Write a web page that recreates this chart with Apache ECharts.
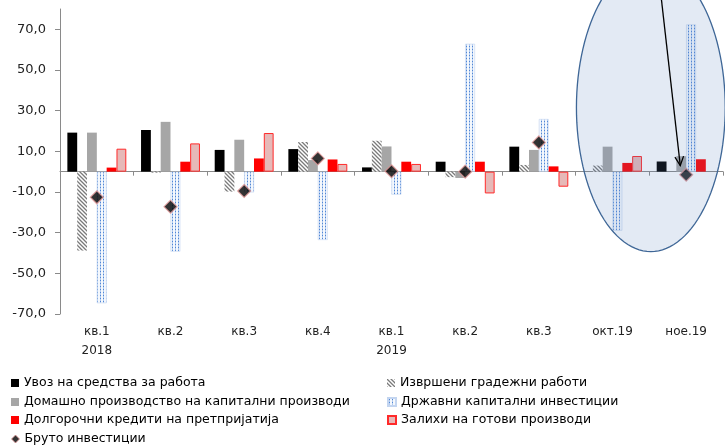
<!DOCTYPE html>
<html>
<head>
<meta charset="utf-8">
<script src="https://cdn.jsdelivr.net/npm/echarts@6/dist/echarts.min.js"></script>
<style>
  html, body { margin: 0; padding: 0; background: #fff; }
  #main { width: 725px; height: 445px; }
</style>
</head>
<body>
<div id="main"></div>
<script>
// Categories (quarters of 2018-2019, then months)
const categories = ['кв.1\n2018', 'кв.2', 'кв.3', 'кв.4', 'кв.1\n2019', 'кв.2', 'кв.3', 'окт.19', 'ное.19'];

// Series values, annual % change
const importsEquipment = [19.2, 20.5, 10.7, 11.1, 2.1, 4.9, 12.3, null, 5.0];
const constructionWorks = [-38.8, -0.5, -9.8, 14.6, 15.2, -2.7, 3.3, 3.0, null];
const domesticCapital = [19.2, 24.5, 15.7, 5.7, 12.4, -3.1, 10.7, 12.3, 7.6];
const govInvestment = [-64.7, -39.3, -10.2, -33.6, -11.3, 62.9, 25.9, -29.0, 72.4];
const longTermCredit = [2.0, 4.9, 6.5, 6.0, 4.9, 4.9, 2.6, 4.3, 6.1];
const finishedStocks = [11.3, 13.9, 19.0, 3.8, 3.8, -10.7, -7.4, 7.7, null];
const grossInvestment = [-12.6, -17.2, -9.5, 6.5, 0.2, 0.0, 14.4, null, -1.5];

// Value-axis tick labels
const yTicks = [-70, -50, -30, -10, 10, 30, 50, 70];

const FONT = 'DejaVu Sans';

// Fill patterns
function hatchPattern() {
  const c = document.createElement('canvas');
  c.width = 4; c.height = 4;
  const g = c.getContext('2d');
  g.fillStyle = '#ffffff';
  g.fillRect(0, 0, 4, 4);
  g.strokeStyle = '#7a7a7a';
  g.lineWidth = 1.3;
  g.beginPath();
  g.moveTo(-1, -1); g.lineTo(5, 5);
  g.moveTo(-1, 3); g.lineTo(1, 5);
  g.moveTo(3, -1); g.lineTo(5, 1);
  g.stroke();
  return { image: c, repeat: 'repeat' };
}
function dotPattern() {
  const c = document.createElement('canvas');
  c.width = 3; c.height = 3;
  const g = c.getContext('2d');
  g.fillStyle = '#f4f8fd';
  g.fillRect(0, 0, 3, 3);
  g.fillStyle = '#b3cbee';
  g.fillRect(1, 0, 1, 3);
  g.fillStyle = '#4f86d6';
  g.fillRect(1, 1, 1, 1);
  return { image: c, repeat: 'repeat' };
}

const chart = echarts.init(document.getElementById('main'), null, { renderer: 'canvas' });

function bar(name, data, itemStyle) {
  return {
    name, type: 'bar', data,
    xAxisIndex: 0, yAxisIndex: 0,
    barGap: '0%', barCategoryGap: '20%',
    itemStyle
  };
}

// One legend row per entry, laid out in two columns
const legendText = { fontFamily: FONT, fontSize: 12.5, color: '#000', lineHeight: 14 };
function legendRow(item, left, centerY) {
  return {
    left, top: centerY - 7, orient: 'horizontal', padding: 0,
    itemWidth: 8, itemHeight: 8, textStyle: legendText,
    data: [item]
  };
}

const option = {
  animation: false,
  backgroundColor: '#ffffff',
  grid: { left: 60, right: 2, top: 9, bottom: 131, containLabel: false },
  xAxis: [
    {
      type: 'category', data: categories, position: 'bottom',
      axisLine: { onZero: true, lineStyle: { color: '#8a8a8a', width: 1 } },
      axisTick: { show: true, length: 4, lineStyle: { color: '#8a8a8a' } },
      axisLabel: { show: false },
      splitLine: { show: false }
    },
    {
      type: 'category', data: categories, position: 'bottom',
      axisLine: { show: false, onZero: false },
      axisTick: { show: false },
      axisLabel: { show: true, margin: 8, fontFamily: FONT, fontSize: 12, color: '#222', lineHeight: 19 },
      splitLine: { show: false }
    }
  ],
  yAxis: {
    type: 'value', min: -70, max: 80,
    axisLine: { show: true, lineStyle: { color: '#8a8a8a' } },
    axisTick: { show: true, length: 5, customValues: yTicks, lineStyle: { color: '#8a8a8a' } },
    axisLabel: {
      customValues: yTicks, margin: 14,
      fontFamily: FONT, fontSize: 13, color: '#222',
      formatter: v => v.toFixed(1).replace('.', ',')
    },
    splitLine: { show: false }
  },
  legend: [
    legendRow({ name: 'Увоз на средства за работа', icon: 'rect' }, 11, 383),
    legendRow({ name: 'Домашно производство на капитални производи', icon: 'rect' }, 11, 402),
    legendRow({ name: 'Долгорочни кредити на претпријатија', icon: 'rect' }, 11, 420),
    legendRow({ name: 'Бруто инвестиции', icon: 'diamond',
      itemStyle: { color: '#000', borderColor: '#e39a9a', borderWidth: 1 } }, 11, 439),
    legendRow({ name: 'Извршени градежни работи', icon: 'rect' }, 387, 383),
    legendRow({ name: 'Државни капитални инвестиции', icon: 'rect' }, 387, 402),
    legendRow({ name: 'Залихи на готови производи', icon: 'rect' }, 387, 420)
  ],
  series: [
    bar('Увоз на средства за работа', importsEquipment, { color: '#000000' }),
    bar('Извршени градежни работи', constructionWorks, { color: hatchPattern() }),
    bar('Домашно производство на капитални производи', domesticCapital, { color: '#a6a6a6' }),
    bar('Државни капитални инвестиции', govInvestment, { color: dotPattern(), borderColor: '#c3d5f0', borderWidth: 0.6 }),
    bar('Долгорочни кредити на претпријатија', longTermCredit, { color: '#ff0000' }),
    bar('Залихи на готови производи', finishedStocks, { color: '#e6b9b8', borderColor: '#ff2a2a', borderWidth: 1 }),
    {
      name: 'Бруто инвестиции', type: 'scatter', data: grossInvestment,
      xAxisIndex: 0, yAxisIndex: 0,
      symbol: 'diamond', symbolSize: 13, z: 5,
      itemStyle: { color: '#000000', borderColor: '#e39a9a', borderWidth: 1.2 }
    }
  ]
};

chart.setOption(option);

// Highlight ellipse around the latest months and an arrow pointing at the last value
const px = (i, v) => chart.convertToPixel({ xAxisIndex: 0, yAxisIndex: 0 }, [i, v]);
const p7 = px(7, 0), p8 = px(8, 0);
const catW = p8[0] - p7[0];
const cx = (p7[0] + p8[0]) / 2 + 1.5;
const cy = px(8, 31.5)[1];
const ry = px(8, 0)[1] - px(8, 70.8)[1];
const rx = catW * 1.01;
const pts = [];
for (let k = 0; k < 120; k++) {
  const t = (k / 120) * Math.PI * 2;
  pts.push([cx + rx * Math.cos(t), cy + ry * Math.sin(t)]);
}
const tip = [p8[0] - catW * 0.08, px(8, 3)[1]];
const tail = [p8[0] - catW * 0.34, px(8, 86)[1]];
const ang = Math.atan2(tip[1] - tail[1], tip[0] - tail[0]);
const headLen = 10, headAng = 0.45;
const h1 = [tip[0] - headLen * Math.cos(ang - headAng), tip[1] - headLen * Math.sin(ang - headAng)];
const h2 = [tip[0] - headLen * Math.cos(ang + headAng), tip[1] - headLen * Math.sin(ang + headAng)];

chart.setOption({
  graphic: [
    {
      type: 'polygon', z: 100, silent: true,
      shape: { points: pts },
      style: { fill: 'rgba(90,132,192,0.17)', stroke: '#3e6696', lineWidth: 1.3 }
    },
    {
      type: 'polyline', z: 101, silent: true,
      shape: { points: [tail, tip] },
      style: { stroke: '#000', lineWidth: 1.3, fill: null }
    },
    {
      type: 'polyline', z: 101, silent: true,
      shape: { points: [h1, tip, h2] },
      style: { stroke: '#000', lineWidth: 1.3, fill: null }
    }
  ]
});
</script>
</body>
</html>
